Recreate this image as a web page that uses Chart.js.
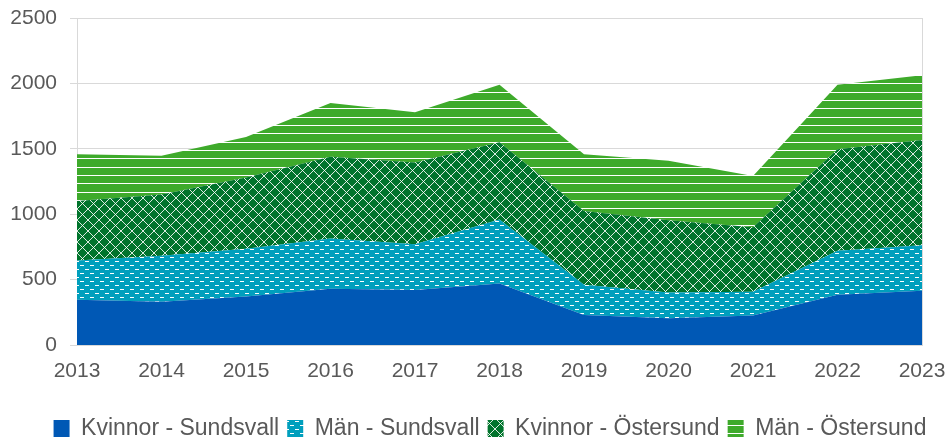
<!DOCTYPE html>
<html>
<head>
<meta charset="utf-8">
<script src="https://cdn.jsdelivr.net/npm/chart.js@4"></script>
<style>
  body { margin: 0; background: #fff; }
  #wrap { width: 946px; height: 441px; }
</style>
</head>
<body>
<div id="wrap"><canvas id="areaChart" width="946" height="441"></canvas></div>
<script>
// data (values per serie, not cumulative)
const years = ['2013','2014','2015','2016','2017','2018','2019','2020','2021','2022','2023'];
const kvinnorSundsvall = [345, 330, 370, 430, 420, 470, 230, 205, 225, 385, 415];
const manSundsvall     = [301, 353, 365, 385, 350, 490, 230, 197, 183, 335, 347];
const kvinnorOstersund = [454, 467, 545, 625, 625, 590, 565, 552, 492, 777, 805];
const manOstersund     = [358, 296, 310, 411, 385, 440, 434, 454, 392, 493, 495];
const seriesNames = ['Kvinnor - Sundsvall', 'Män - Sundsvall', 'Kvinnor - Östersund', 'Män - Östersund'];

const ctx = document.getElementById('areaChart').getContext('2d');

// small canvas tiles for the excel-like fill patterns
function makePattern(w, h, bg, draw) {
    const c = document.createElement('canvas');
    c.width = w; c.height = h;
    const g = c.getContext('2d');
    g.fillStyle = bg;
    g.fillRect(0, 0, w, h);
    draw(g, w, h);
    return ctx.createPattern(c, 'repeat');
}

const tealDash = makePattern(10, 8, '#009fbd', (g) => {
    g.fillStyle = '#ffffff';
    g.fillRect(0, 1, 4, 1);
    g.fillRect(5, 5, 4, 1);
});

const greenDiamond = makePattern(11, 11, '#00742c', (g, w, h) => {
    g.strokeStyle = 'rgba(255,255,255,0.85)';
    g.lineWidth = 1;
    g.beginPath();
    g.moveTo(0, 0); g.lineTo(w, h);
    g.moveTo(w, 0); g.lineTo(0, h);
    g.stroke();
});

const greenLines = makePattern(8, 25, '#3eaa2b', (g) => {
    g.fillStyle = '#ffffff';
    g.fillRect(0, 0, 8, 1);
    g.fillRect(0, 8, 8, 1);
    g.fillRect(0, 17, 8, 1);
});

const fills = ['#0058b5', tealDash, greenDiamond, greenLines];
const values = [kvinnorSundsvall, manSundsvall, kvinnorOstersund, manOstersund];

const datasets = values.map((v, i) => ({
    label: seriesNames[i],
    data: v,
    backgroundColor: fills[i],
    borderColor: 'rgba(0,0,0,0)',
    borderWidth: 0,
    pointRadius: 0,
    tension: 0,
    fill: i === 0 ? 'origin' : '-1'
}));

const gridGray = '#d9d9d9';
const textGray = '#595959';
const fontFam = 'Liberation Sans, Arial, sans-serif';

// legend in the original is centred a bit right of the canvas middle
const shiftLegend = {
    id: 'shiftLegend',
    afterLayout(chart) {
        chart.legend.left = 34;
    }
};

new Chart(ctx, {
    type: 'line',
    data: { labels: years, datasets },
    plugins: [shiftLegend],
    options: {
        responsive: false,
        animation: false,
        devicePixelRatio: 1,
        layout: { padding: { top: 18, right: 0, bottom: -9, left: 0 } },
        plugins: {
            tooltip: { enabled: false },
            legend: {
                position: 'bottom',
                labels: {
                    color: textGray,
                    font: { family: fontFam, size: 23 },
                    boxWidth: 16,
                    boxHeight: 17,
                    padding: 8
                }
            }
        },
        scales: {
            x: {
                offset: false,
                grid: {
                    color: (c) => (c.index === years.length - 1 ? gridGray : 'rgba(0,0,0,0)'),
                    drawTicks: false
                },
                border: { display: true, color: gridGray, width: 1 },
                ticks: {
                    color: textGray,
                    font: { family: fontFam, size: 21 },
                    padding: 14,
                    maxRotation: 0,
                    autoSkip: false
                },
                afterFit: (s) => {
                    s.height = 64;
                    s.paddingLeft = 0;
                    s.paddingRight = 24;
                }
            },
            y: {
                stacked: true,
                min: 0,
                max: 2500,
                ticks: {
                    stepSize: 500,
                    color: textGray,
                    font: { family: fontFam, size: 21 },
                    padding: 13,
                    callback: (v) => String(v)
                },
                grid: { color: gridGray, tickLength: 7 },
                border: { display: true, color: gridGray },
                afterFit: (s) => {
                    s.width = 77;
                    s.paddingTop = 0;
                    s.paddingBottom = 0;
                }
            }
        }
    }
});
</script>
</body>
</html>
